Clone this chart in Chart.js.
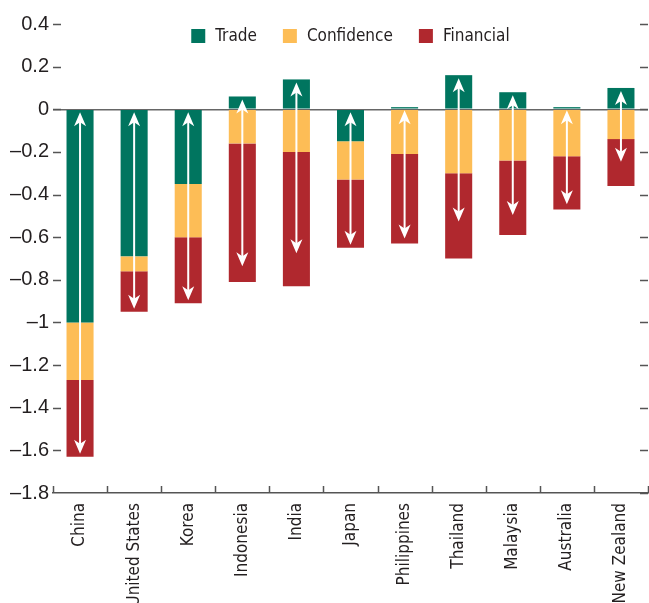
<!DOCTYPE html>
<html>
<head>
<meta charset="utf-8">
<script src="https://cdn.jsdelivr.net/npm/chart.js@4.4.1/dist/chart.umd.min.js"></script>
<style>
  html, body { margin: 0; padding: 0; background: #fff; overflow: hidden; }
  #wrap { width: 649px; height: 603px; position: relative; }
</style>
</head>
<body>
<div id="wrap"><canvas id="chart"></canvas></div>
<script>
const countries = ['China', 'United States', 'Korea', 'Indonesia', 'India', 'Japan',
  'Philippines', 'Thailand', 'Malaysia', 'Australia', 'New Zealand'];
const trade      = [-1.00, -0.69, -0.35,  0.06,  0.14, -0.15,  0.01,  0.16,  0.08,  0.01,  0.10];
const confidence = [-0.27, -0.07, -0.25, -0.16, -0.20, -0.18, -0.21, -0.30, -0.24, -0.22, -0.14];
const financial  = [-0.36, -0.19, -0.31, -0.65, -0.63, -0.32, -0.42, -0.40, -0.35, -0.25, -0.22];
const yTicks = [0.4, 0.2, 0, -0.2, -0.4, -0.6, -0.8, -1, -1.2, -1.4, -1.6, -1.8];

const TEXT = '#231f20';
const FONT = "'Liberation Sans', Arial, sans-serif";
const NARROW = "'DejaVu Sans Condensed', 'Liberation Sans', sans-serif";

function fmt(v) {
  const r = Math.round(v * 10) / 10;
  if (r === 0) return '0';
  return (r < 0 ? '\u2013' : '') + Math.abs(r);
}

// legend inside the plot, white arrows from positive top to net total, inward tick marks
const decor = {
  id: 'decor',
  afterDatasetsDraw(chart) {
    const { ctx, scales: { x, y } } = chart;
    ctx.save();
    ctx.strokeStyle = '#fff';
    ctx.fillStyle = '#fff';
    ctx.lineWidth = 2;
    countries.forEach((c, i) => {
      const vals = [trade[i], confidence[i], financial[i]];
      const top = vals.filter(v => v > 0).reduce((s, v) => s + v, 0);
      const net = vals.reduce((s, v) => s + v, 0);
      const px = x.getPixelForValue(i);
      const y1 = y.getPixelForValue(top) + 3;
      const y2 = y.getPixelForValue(net) - 3;
      ctx.beginPath();
      ctx.moveTo(px, y1 + 8);
      ctx.lineTo(px, y2 - 8);
      ctx.stroke();
      [[y1, -1], [y2, 1]].forEach(([tip, dir]) => {
        ctx.beginPath();
        ctx.moveTo(px, tip);
        ctx.lineTo(px - 6, tip - dir * 14);
        ctx.lineTo(px, tip - dir * 10);
        ctx.lineTo(px + 6, tip - dir * 14);
        ctx.closePath();
        ctx.fill();
      });
    });
    ctx.restore();
  },
  afterDraw(chart) {
    const { ctx, chartArea: a, scales: { x, y } } = chart;
    ctx.save();
    ctx.strokeStyle = '#555';
    ctx.lineWidth = 1.5;
    ctx.beginPath();
    yTicks.forEach(t => {
      const py = Math.round(y.getPixelForValue(t)) + 0.5;
      if (t !== -1.8) {
        ctx.moveTo(a.left, py); ctx.lineTo(a.left + 8, py);
      }
      ctx.moveTo(a.right - 8, py); ctx.lineTo(a.right, py);
    });
    const half = (x.getPixelForValue(1) - x.getPixelForValue(0)) / 2;
    for (let i = 0; i <= countries.length; i++) {
      const px = Math.round(x.getPixelForValue(i) - half) + 0.5;
      ctx.moveTo(px, a.bottom); ctx.lineTo(px, a.bottom - 7);
    }
    ctx.stroke();

    // legend
    const box = 14, gap = 10, spacing = 26;
    ctx.font = '17px ' + NARROW;
    ctx.textBaseline = 'middle';
    ctx.textAlign = 'left';
    const items = chart.data.datasets.map(d => ({
      text: d.label, color: d.backgroundColor, w: box + gap + ctx.measureText(d.label).width
    }));
    const total = items.reduce((s, it) => s + it.w, 0) + spacing * (items.length - 1);
    let lx = (a.left + a.right) / 2 - total / 2;
    const ly = a.top + 12;
    items.forEach(it => {
      ctx.fillStyle = it.color;
      ctx.fillRect(lx, ly - box / 2, box, box);
      ctx.fillStyle = TEXT;
      ctx.fillText(it.text, lx + box + gap, ly + 1);
      lx += it.w + spacing;
    });
    ctx.restore();
  }
};

new Chart(document.getElementById('chart'), {
  type: 'bar',
  data: {
    labels: countries,
    datasets: [
      { label: 'Trade', data: trade, backgroundColor: '#00755f' },
      { label: 'Confidence', data: confidence, backgroundColor: '#fdbd56' },
      { label: 'Financial', data: financial, backgroundColor: '#b0282e' }
    ]
  },
  options: {
    responsive: true,
    maintainAspectRatio: false,
    animation: false,
    layout: { padding: { top: 24, right: 1, left: 0, bottom: 0 } },
    datasets: { bar: { categoryPercentage: 1, barPercentage: 0.5 } },
    plugins: {
      legend: { display: false },
      tooltip: { enabled: false }
    },
    scales: {
      x: {
        stacked: true,
        afterFit: scale => { scale.height = 110; },
        border: { display: true, color: '#555', width: 1.5 },
        grid: { display: false },
        ticks: {
          minRotation: 90,
          maxRotation: 90,
          autoSkip: false,
          padding: 2,
          color: TEXT,
          font: { family: NARROW, size: 17 }
        }
      },
      y: {
        stacked: true,
        min: -1.8,
        max: 0.4,
        afterFit: scale => { scale.width = 53; },
        afterBuildTicks: scale => { scale.ticks = yTicks.map(v => ({ value: v })); },
        border: { display: false },
        grid: {
          drawTicks: false,
          lineWidth: 1.5,
          color: c => Math.abs(c.tick.value) < 1e-9 ? '#666' : 'rgba(0,0,0,0)'
        },
        ticks: {
          padding: 4,
          color: TEXT,
          font: { family: FONT, size: 20 },
          callback: v => fmt(v)
        }
      }
    }
  },
  plugins: [decor]
});
</script>
</body>
</html>
